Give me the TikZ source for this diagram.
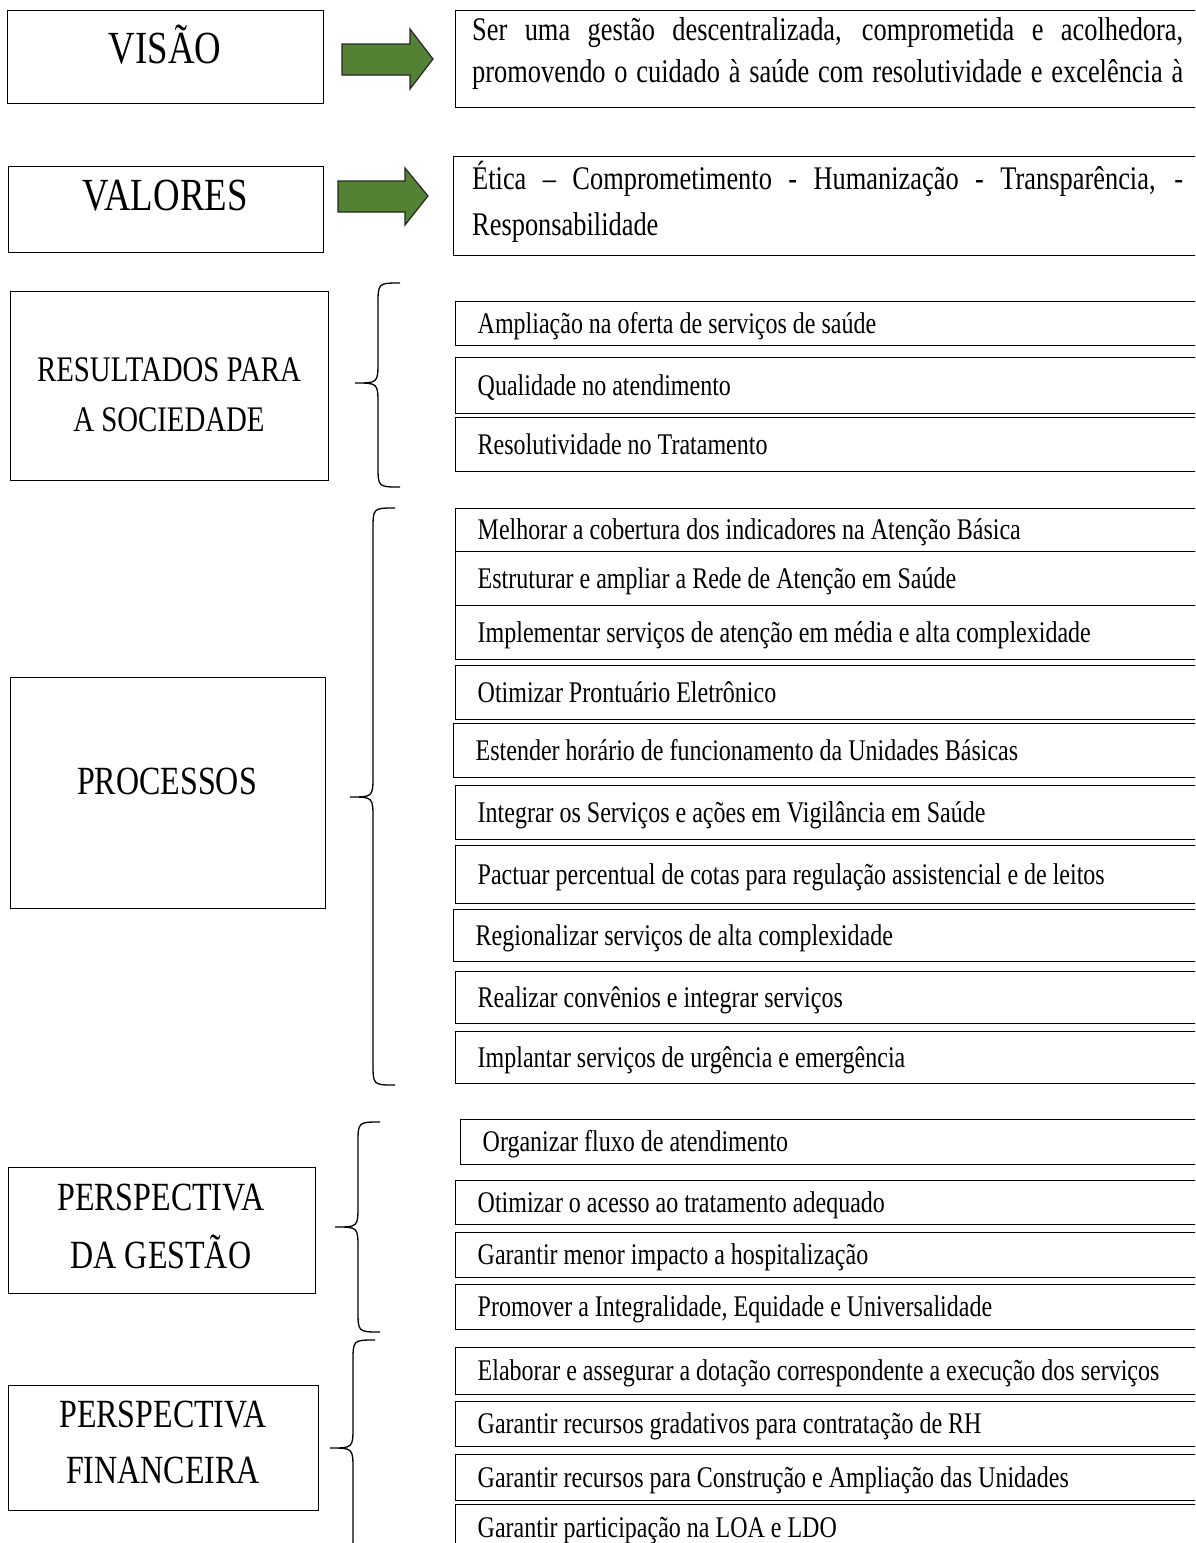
\documentclass[tikz,border=0pt]{standalone}
\usepackage{fontspec}
\setmainfont{Liberation Serif}[FakeStretch=0.8]
\usetikzlibrary{calc}
\definecolor{arrgreen}{RGB}{84,130,53}
\newcommand\curlybrace[6]{%
  \draw[bracestyle] (#1,#4) .. controls (#2,#4) .. (#2,{#4+22}) -- (#2,{#5-22})
    .. controls (#2,#5) .. (#3,#5) .. controls (#2,#5) .. (#2,{#5+22})
    -- (#2,{#6-22}) .. controls (#2,#6) .. (#1,#6);}
\newcommand\narrowspaces{\spaceskip=6pt plus 2pt minus 1pt\relax}
\begin{document}
\begin{tikzpicture}[x=1pt,y=-1pt,
  bigbox/.style={draw, line width=1.4pt, anchor=north west, inner sep=0pt},
  bigtext/.style={font=\fontsize{40}{48}\selectfont, inner sep=0pt},
  itembox/.style={draw, line width=1.4pt, anchor=north west, text width=780pt,
    inner xsep=22pt, inner ysep=0pt, align=left, text height=21pt, text depth=2pt,
    font=\fontsize{30}{36}\selectfont, execute at begin node=\narrowspaces},
  bodytext/.style={anchor=base west, inner sep=0pt, font=\fontsize{33}{40}\selectfont},
  bracestyle/.style={line width=1.3pt},
  greenarrow/.style={fill=arrgreen, draw=black!85, line width=1.2pt, line join=miter}]
\useasboundingbox (0,0) rectangle (1195,1543);
\fill[white] (0,0) rectangle (1195,1543);
\clip (0,0) rectangle (1195,1543);

% ---------- VISAO ----------
\node[bigbox, minimum width=316, minimum height=93] (visao) at (7,10) {};
\node[bigtext, font=\fontsize{46}{50}\selectfont] (visaotxt) at (165,45) {VISÃO};
\draw[greenarrow] (342,44) -- (410,44) -- (410,29) -- (433,59) -- (410,89) -- (410,75) -- (342,75) -- cycle;
\node[bigbox, minimum width=820, minimum height=97] (visaobox) at (455,10) {};
\node[bodytext] (vis1) at (472,40) {\makebox[711pt][s]{Ser uma gestão descentralizada, comprometida e acolhedora,}};
\node[bodytext] (vis2) at (472,82) {\makebox[711pt][s]{promovendo o cuidado à saúde com resolutividade e excelência à}};

% ---------- VALORES ----------
\node[bigbox, minimum width=315, minimum height=86] (valores) at (8,166) {};
\node[bigtext, font=\fontsize{46}{50}\selectfont] (valorestxt) at (165,196) {VALORES};
\draw[greenarrow] (338,181) -- (405,181) -- (405,168) -- (428,196) -- (405,225) -- (405,212) -- (338,212) -- cycle;
\node[bigbox, minimum width=820, minimum height=99] (valoresbox) at (453,156) {};
\node[bodytext] (val1) at (472,189) {\makebox[711pt][s]{Ética – Comprometimento - Humanização - Transparência, -}};
\node[bodytext] (val2) at (472,235) {Responsabilidade};

% ---------- RESULTADOS ----------
\node[bigbox, minimum width=318, minimum height=189] (result) at (10,291) {};
\node[bigtext, font=\fontsize{36}{40}\selectfont] (resulttxt1) at (169,370) {RESULTADOS PARA};
\node[bigtext, font=\fontsize{36}{40}\selectfont] (resulttxt2) at (169,420) {A SOCIEDADE};
\curlybrace{400}{378}{355}{283}{383}{487}
\node[itembox, minimum height=44] (r1) at (455,301) {Ampliação na oferta de serviços de saúde};
\node[itembox, minimum height=56] (r2) at (455,357) {Qualidade no atendimento};
\node[itembox, minimum height=54] (r3) at (455,417) {Resolutividade no Tratamento};

% ---------- PROCESSOS ----------
\node[bigbox, minimum width=315, minimum height=231] (proc) at (10,677) {};
\node[bigtext] (proctxt) at (167,781) {PROCESSOS};
\curlybrace{395}{373}{350}{508}{797}{1085}
\node[itembox, minimum height=43] (p1) at (455,508) {Melhorar a cobertura dos indicadores na Atenção Básica};
\node[itembox, minimum height=54] (p2) at (455,551) {Estruturar e ampliar a Rede de Atenção em Saúde};
\node[itembox, minimum height=54] (p3) at (455,605) {Implementar serviços de atenção em média e alta complexidade};
\node[itembox, minimum height=54] (p4) at (455,665) {Otimizar Prontuário Eletrônico};
\node[itembox, minimum height=54] (p5) at (453,723) {Estender horário de funcionamento da Unidades Básicas};
\node[itembox, minimum height=54] (p6) at (455,785) {Integrar os Serviços e ações em Vigilância em Saúde};
\node[itembox, minimum height=58] (p7) at (455,845) {Pactuar percentual de cotas para regulação assistencial e de leitos};
\node[itembox, minimum height=52] (p8) at (453,909) {Regionalizar serviços de alta complexidade};
\node[itembox, minimum height=52] (p9) at (455,971) {Realizar convênios e integrar serviços};
\node[itembox, minimum height=52] (p10) at (455,1031) {Implantar serviços de urgência e emergência};

% ---------- PERSPECTIVA DA GESTAO ----------
\node[bigbox, minimum width=307, minimum height=126] (gest) at (8,1167) {};
\node[bigtext] (gesttxt1) at (161,1198) {PERSPECTIVA};
\node[bigtext] (gesttxt2) at (161,1252) {DA GESTÃO};
\curlybrace{380}{358}{335}{1122}{1227}{1332}
\node[itembox, minimum height=45] (g1) at (460,1119) {Organizar fluxo de atendimento};
\node[itembox, minimum height=44] (g2) at (455,1180) {Otimizar o acesso ao tratamento adequado};
\node[itembox, minimum height=45] (g3) at (455,1232) {Garantir menor impacto a hospitalização};
\node[itembox, minimum height=45] (g4) at (455,1284) {Promover a Integralidade, Equidade e Universalidade};

% ---------- PERSPECTIVA FINANCEIRA ----------
\node[bigbox, minimum width=310, minimum height=125] (fin) at (8,1385) {};
\node[bigtext] (fintxt1) at (163,1415) {PERSPECTIVA};
\node[bigtext] (fintxt2) at (163,1470) {FINANCEIRA};
\curlybrace{375}{353}{330}{1340}{1448}{1556}
\node[itembox, minimum height=47] (f1) at (455,1347) {Elaborar e assegurar a dotação correspondente a execução dos serviços};
\node[itembox, minimum height=45] (f2) at (455,1401) {Garantir recursos gradativos para contratação de RH};
\node[itembox, minimum height=46] (f3) at (455,1454) {Garantir recursos para Construção e Ampliação das Unidades};
\node[itembox, minimum height=46] (f4) at (455,1504) {Garantir participação na LOA e LDO};
\end{tikzpicture}
\end{document}
